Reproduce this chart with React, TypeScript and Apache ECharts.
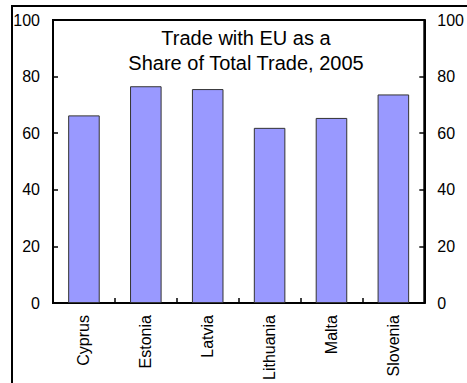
import React, { useEffect, useRef } from "react";
import * as echarts from "echarts";

const categories = ["Cyprus", "Estonia", "Latvia", "Lithuania", "Malta", "Slovenia"];
const shareValues = [66.3, 76.6, 75.6, 61.9, 65.4, 73.7];
const titleText = "Trade with EU as a\nShare of Total Trade, 2005";

export default function App() {
  const ref = useRef<HTMLDivElement>(null);
  useEffect(() => {
    document.documentElement.style.overflow = "hidden";
    document.body.style.margin = "0";
    document.body.style.overflow = "hidden";
    if (!ref.current) return;
    const chart = echarts.init(ref.current, undefined, { renderer: "svg" });
    const font = "Arial, 'Liberation Sans', sans-serif";
    const yAxisBase = {
      type: "value" as const,
      min: 0,
      max: 100,
      interval: 20,
      splitLine: { show: false },
      axisLine: { show: true, lineStyle: { color: "#000", width: 2 } },
      axisTick: { show: true, inside: true, length: 5, lineStyle: { color: "#000", width: 1.5 } },
      axisLabel: { color: "#000", fontSize: 16, fontFamily: font },
    };
    chart.setOption({
      animation: false,
      backgroundColor: "#fff",
      title: {
        text: titleText,
        left: 246,
        top: 25,
        padding: 0,
        textAlign: "center",
        textStyle: { fontSize: 20, fontWeight: "normal", color: "#000", fontFamily: font, lineHeight: 25 },
      },
      grid: {
        left: 53,
        right: 37,
        top: 20,
        bottom: 79,
        show: true,
        borderColor: "#000",
        borderWidth: 2,
        backgroundColor: "transparent",
      },
      xAxis: {
        type: "category",
        data: categories,
        axisLine: { show: true, lineStyle: { color: "#000", width: 2 } },
        axisTick: { show: true, inside: true, length: 5, alignWithLabel: false, lineStyle: { color: "#000", width: 1.5 } },
        axisLabel: { rotate: 90, color: "#000", fontSize: 16, fontFamily: font, margin: 12, interval: 0 },
      },
      yAxis: [
        { ...yAxisBase, position: "left", axisLabel: { ...yAxisBase.axisLabel, margin: 13 } },
        { ...yAxisBase, position: "right", axisLabel: { ...yAxisBase.axisLabel, margin: 13 } },
      ],
      series: [
        {
          type: "bar",
          data: shareValues,
          barWidth: "51%",
          itemStyle: { color: "#9999FF", borderColor: "#333", borderWidth: 1 },
        },
      ],
      graphic: [
        {
          type: "line",
          shape: { x1: 11, y1: 6, x2: 480, y2: 6 },
          style: { stroke: "#000", lineWidth: 2 },
          silent: true,
        },
        {
          type: "line",
          shape: { x1: 12, y1: 5, x2: 12, y2: 390 },
          style: { stroke: "#000", lineWidth: 2 },
          silent: true,
        },
      ],
    });
    return () => chart.dispose();
  }, []);
  return (
    <div
      ref={ref}
      style={{ position: "fixed", left: 0, top: 0, width: 467, height: 383, background: "#fff", overflow: "hidden" }}
    />
  );
}
